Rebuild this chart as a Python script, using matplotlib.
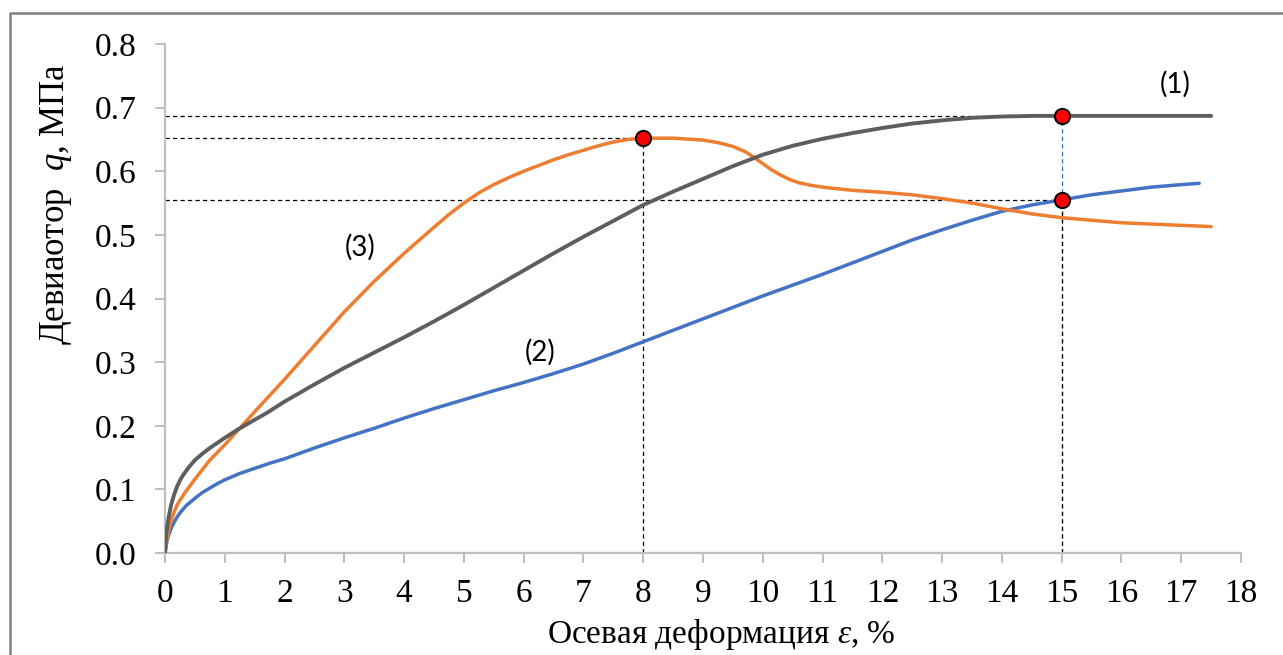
import matplotlib
matplotlib.use("Agg")
import matplotlib.pyplot as plt
from matplotlib.lines import Line2D

# Curve (1)
x1 = [0, 0.02, 0.05, 0.1, 0.15, 0.2, 0.25, 0.3, 0.4, 0.5, 0.625, 0.75, 0.875, 1.0, 1.2, 1.4,
      1.7, 2.0, 2.5, 3.0, 3.5, 4.0, 4.5, 5.0, 5.5, 6.0, 6.5, 7.0, 7.5, 8.0, 8.5, 9.0, 9.5,
      10.0, 10.5, 11.0, 11.5, 12.0, 12.5, 13.0, 13.5, 14.0, 14.5, 15.0, 16.0, 17.0, 17.5]
q1 = [0, 0.03, 0.05, 0.075, 0.091, 0.104, 0.114, 0.122, 0.135, 0.146, 0.156, 0.165, 0.173,
      0.181, 0.193, 0.204, 0.220, 0.238, 0.265, 0.291, 0.315, 0.339, 0.364, 0.39, 0.417,
      0.444, 0.471, 0.497, 0.522, 0.547, 0.568, 0.588, 0.608, 0.626, 0.640, 0.651, 0.660,
      0.668, 0.675, 0.680, 0.684, 0.686, 0.687, 0.687, 0.687, 0.687, 0.687]

# Curve (2)
x2 = [0, 0.03, 0.06, 0.1, 0.15, 0.2, 0.25, 0.35, 0.5, 0.625, 0.75, 0.875, 1.0, 1.25, 1.5,
      1.75, 2.0, 2.5, 3.0, 3.5, 4.0, 4.5, 5.0, 5.5, 6.0, 6.5, 7.0, 7.5, 8.0, 8.5, 9.0, 9.5,
      10.0, 10.5, 11.0, 11.5, 12.0, 12.5, 13.0, 13.5, 14.0, 14.5, 15.0, 15.5, 16.0, 16.5,
      17.0, 17.3]
q2 = [0, 0.018, 0.028, 0.038, 0.048, 0.056, 0.063, 0.074, 0.086, 0.095, 0.102, 0.109, 0.115,
      0.125, 0.133, 0.141, 0.148, 0.165, 0.181, 0.196, 0.212, 0.227, 0.241, 0.255, 0.268,
      0.282, 0.297, 0.314, 0.332, 0.350, 0.368, 0.386, 0.404, 0.421, 0.438, 0.456, 0.474,
      0.492, 0.508, 0.523, 0.537, 0.547, 0.555, 0.563, 0.569, 0.575, 0.579, 0.581]

# Curve (3)
x3 = [0, 0.03, 0.06, 0.1, 0.15, 0.2, 0.25, 0.35, 0.5, 0.75, 1.0, 1.5, 2.0, 2.5, 3.0, 3.5,
      4.0, 4.5, 4.75, 5.0, 5.25, 5.5, 5.75, 6.0, 6.25, 6.5, 6.75, 7.0, 7.25, 7.5, 7.75, 8.0,
      8.5, 9.0, 9.25, 9.5, 9.7, 9.85, 10.0, 10.15, 10.3, 10.45, 10.6, 10.8, 11.0, 11.5,
      12.0, 12.5, 13.0, 13.5, 14.0, 14.5, 15.0, 15.5, 16.0, 16.5, 17.0, 17.5]
q3 = [0, 0.02, 0.035, 0.05, 0.064, 0.075, 0.083, 0.097, 0.116, 0.146, 0.17, 0.222, 0.273,
      0.326, 0.379, 0.427, 0.471, 0.512, 0.532, 0.550, 0.566, 0.579, 0.590, 0.600, 0.609,
      0.618, 0.626, 0.633, 0.640, 0.646, 0.650, 0.652, 0.652, 0.649, 0.645, 0.639, 0.631,
      0.622, 0.612, 0.602, 0.594, 0.587, 0.582, 0.578, 0.575, 0.570, 0.567, 0.563, 0.557,
      0.550, 0.541, 0.533, 0.527, 0.523, 0.519, 0.517, 0.515, 0.513]

# Marked points
pt_x = [15, 8, 15]
pt_q = [0.687, 0.652, 0.555]

curve_labels = ["(1)", "(2)", "(3)"]
label_x = [16.9, 6.27, 3.26]
label_q = [0.736, 0.316, 0.48]

x_ticks = list(range(0, 19))
y_ticks = [0.0, 0.1, 0.2, 0.3, 0.4, 0.5, 0.6, 0.7, 0.8]

plt.rcParams['mathtext.fontset'] = 'custom'
plt.rcParams['mathtext.rm'] = 'Liberation Serif'
plt.rcParams['mathtext.it'] = 'Liberation Serif:italic'
plt.rcParams['font.family'] = ['Liberation Serif', 'DejaVu Serif']

fig = plt.figure(figsize=(12.83, 6.55), dpi=100)
W, H = 1283, 655
ax = fig.add_axes([165 / W, 1 - 553 / H, (1241 - 165) / W, (553 - 44) / H])

GRAY = "#5e5e5e"
ORANGE = "#ED7D31"
BLUE = "#4472C4"
AX = "#BFBFBF"

dash_kw = dict(color="black", lw=0.9, dashes=(3.4, 2.6), zorder=2)
# reference lines
ax.plot([0, pt_x[0]], [pt_q[0], pt_q[0]], **dash_kw)
ax.plot([0, pt_x[1]], [pt_q[1], pt_q[1]], **dash_kw)
ax.plot([0, pt_x[2]], [pt_q[2], pt_q[2]], **dash_kw)
ax.plot([pt_x[1], pt_x[1]], [0, pt_q[1]], **dash_kw)
ax.plot([pt_x[0], pt_x[0]], [0, pt_q[0]], color="#2E75B6", lw=0.9, dashes=(3.4, 2.6), zorder=2)
ax.plot([pt_x[2], pt_x[2]], [0, pt_q[2]], **dash_kw)

ax.plot(x2, q2, color=BLUE, lw=2.5, zorder=3, solid_capstyle='round', solid_joinstyle='round')
ax.plot(x3, q3, color=ORANGE, lw=2.5, zorder=3, solid_capstyle='round', solid_joinstyle='round')
ax.plot(x1, q1, color=GRAY, lw=2.8, zorder=4, solid_capstyle='round', solid_joinstyle='round')

ax.plot(pt_x, pt_q, linestyle="none", marker="o", markersize=11, markerfacecolor="#FF0000",
        markeredgecolor="black", markeredgewidth=1.4, zorder=5)

for lab, lx, lq in zip(curve_labels, label_x, label_q):
    ax.text(lx, lq, lab, fontsize=20, family=["Lato", "DejaVu Sans"], ha="center", va="center")

ax.set_xlim(0, 18)
ax.set_ylim(0, 0.8)
ax.set_xticks(x_ticks)
ax.set_yticks(y_ticks)
ax.set_yticklabels([f"{v:.1f}" for v in y_ticks])

for s in ("top", "right"):
    ax.spines[s].set_visible(False)
for s in ("left", "bottom"):
    ax.spines[s].set_color(AX)
    ax.spines[s].set_linewidth(1.6)

ax.tick_params(axis="both", direction="out", length=7.5, width=1.5, color=AX,
               labelsize=24, pad=11, labelcolor="black")
ax.tick_params(axis="y", pad=13)

ax.set_xlabel("Осевая деформация $\\varepsilon$, %", fontsize=24)
ax.xaxis.set_label_coords(0.517, -82 / 509, transform=ax.transAxes)
ax.set_ylabel("Девиаотор  $q$, МПа", fontsize=25)
ax.yaxis.set_label_coords((56 - 165) / 1076, 0.685, transform=ax.transAxes)
ax.xaxis.label.set_va("center")
ax.yaxis.label.set_va("center")

# outer frame
fx = 10 / W
fy = 1 - 13 / H
fig.add_artist(Line2D([fx, fx, 1.0], [0.0, fy, fy], transform=fig.transFigure,
                      color="#7f7f7f", lw=1.8))

fig.savefig("out.png", dpi=100)
